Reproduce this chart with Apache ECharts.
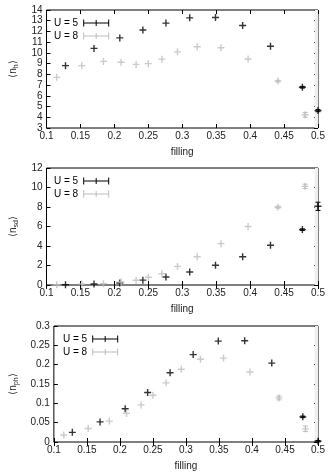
<!DOCTYPE html>
<html><head><meta charset="utf-8">
<script src="https://cdn.jsdelivr.net/npm/echarts@6/dist/echarts.min.js"></script>
<style>html,body{margin:0;padding:0;background:#fff}#c{width:334px;height:472px}</style>
</head><body><div id="c"></div>
<script>
// filling values
const fill5 = [0.128, 0.170, 0.208, 0.242, 0.276, 0.311, 0.349, 0.389, 0.430, 0.477, 0.500];
const fill8 = [0.115, 0.152, 0.184, 0.210, 0.232, 0.250, 0.270, 0.293, 0.322, 0.357, 0.397, 0.441, 0.481];
// panel 1: <n_h>
const nh5 = [8.81, 10.42, 11.40, 12.14, 12.78, 13.27, 13.30, 12.56, 10.62, 6.80, 4.62];
const nh8 = [7.72, 8.81, 9.21, 9.13, 8.93, 9.00, 9.42, 10.10, 10.58, 10.48, 9.43, 7.37, 4.23];
const nh5err = [0, 0, 0, 0, 0, 0, 0, 0, 0, 0.08, 0.1];
const nh8err = [0, 0, 0, 0, 0, 0, 0, 0, 0, 0, 0, 0.08, 0.22];
// panel 2: <n_sd>
const nsd5 = [0.03, 0.10, 0.20, 0.50, 0.82, 1.33, 2.02, 2.90, 4.08, 5.68, 8.07];
const nsd8 = [0.03, 0.10, 0.14, 0.31, 0.48, 0.79, 1.16, 1.91, 2.90, 4.24, 6.00, 7.98, 10.12];
const nsd5err = [0, 0, 0, 0, 0, 0, 0, 0, 0, 0.08, 0.42];
const nsd8err = [0, 0, 0, 0, 0, 0, 0, 0, 0, 0, 0, 0.1, 0.22];
// panel 3: <n_ph>
const nph5 = [0.025, 0.052, 0.086, 0.128, 0.179, 0.226, 0.261, 0.262, 0.204, 0.065, 0.002];
const nph8 = [0.018, 0.035, 0.054, 0.074, 0.096, 0.121, 0.153, 0.188, 0.214, 0.217, 0.181, 0.114, 0.034];
const nph5err = [0, 0, 0, 0, 0, 0, 0, 0, 0, 0.002, 0.002];
const nph8err = [0, 0, 0, 0, 0, 0, 0, 0, 0, 0, 0, 0.005, 0.007];
// axis settings
const xTicks = {min: 0.1, max: 0.5, interval: 0.05};
const yRanges = [{min: 3, max: 14, interval: 1}, {min: 0, max: 12, interval: 2}, {min: 0, max: 0.3, interval: 0.05}];
const yNames = ['⟨n{s|h}⟩', '⟨n{s|sd}⟩', '⟨n{s|ph}⟩'];
const seriesNames = ['U = 5', 'U = 8'];

const BLACK = '#000', GRAY = '#bdbdbd';
const plus = 'path://M0,2.4H2.4V0H3.6V2.4H6V3.6H3.6V6H2.4V3.6H0Z';
const legIcon = 'path://M0,3H26V4H0ZM0,0H1V7H0ZM25,0H26V7H25ZM12.5,0.5H13.5V6.5H12.5Z';

const grids = [
  {left: 39, top: 10, width: 279, height: 118},
  {left: 39, top: 168, width: 279, height: 117},
  {left: 48, top: 326, width: 270, height: 116.5}
];
const fmt = v => String(+v.toFixed(2));
const font = 'Liberation Sans, Arial, sans-serif';

const xAxis = [], yAxis = [], series = [], legend = [];
const panels = [
  [[fill5, nh5, nh5err], [fill8, nh8, nh8err]],
  [[fill5, nsd5, nsd5err], [fill8, nsd8, nsd8err]],
  [[fill5, nph5, nph5err], [fill8, nph8, nph8err]]
];
grids.forEach((g, i) => {
  xAxis.push({gridIndex: i, type: 'value', ...xTicks, name: 'filling', nameLocation: 'middle', nameGap: 19,
    nameTextStyle: {fontSize: 10, color: '#222', fontFamily: font},
    axisLine: {show: false}, splitLine: {show: false},
    axisTick: {inside: true, length: 4, lineStyle: {color: '#000'}},
    axisLabel: {fontSize: 10, color: '#222', margin: 3, formatter: fmt, fontFamily: font}});
  yAxis.push({gridIndex: i, type: 'value', ...yRanges[i], name: yNames[i], nameLocation: 'middle', nameGap: 27, nameRotate: 90,
    nameTextStyle: {fontSize: 10, color: '#222', fontFamily: font, rich: {s: {fontSize: 7, verticalAlign: 'bottom', padding: [6, 0, 0, 0], color: '#222'}}},
    axisLine: {show: false}, splitLine: {show: false},
    axisTick: {inside: true, length: 4, lineStyle: {color: '#000'}},
    axisLabel: {fontSize: 10, color: '#222', margin: 4, formatter: fmt, fontFamily: font}});
});
grids.forEach((g, i) => {
  xAxis.push({gridIndex: i, type: 'value', position: 'top', ...xTicks, axisLine: {show: false}, splitLine: {show: false},
    axisTick: {inside: true, length: 4, lineStyle: {color: '#000'}}, axisLabel: {show: false}});
  yAxis.push({gridIndex: i, type: 'value', position: 'right', ...yRanges[i], axisLine: {show: false}, splitLine: {show: false},
    axisTick: {inside: true, length: 4, lineStyle: {color: '#000'}}, axisLabel: {show: false}});
});
grids.forEach((g, i) => {
  panels[i].forEach((p, k) => {
    const [xs, ys, es] = p;
    const color = k === 0 ? BLACK : GRAY;
    const data = xs.map((x, j) => [x, ys[j], es[j]]);
    series.push({
      type: 'custom', name: seriesNames[k], xAxisIndex: i, yAxisIndex: i, z: 3, silent: true,
      itemStyle: {color},
      renderItem: (params, api) => {
        const x = api.value(0), y = api.value(1), e = api.value(2);
        if (!e) return null;
        const p1 = api.coord([x, y - e]), p2 = api.coord([x, y + e]);
        const st = {stroke: color, lineWidth: 1};
        return {type: 'group', children: [
          {type: 'line', shape: {x1: p1[0], y1: p1[1], x2: p2[0], y2: p2[1]}, style: st},
          {type: 'line', shape: {x1: p1[0] - 2.5, y1: p1[1], x2: p1[0] + 2.5, y2: p1[1]}, style: st},
          {type: 'line', shape: {x1: p2[0] - 2.5, y1: p2[1], x2: p2[0] + 2.5, y2: p2[1]}, style: st}
        ]};
      },
      data
    });
    series.push({
      type: 'scatter', name: seriesNames[k], xAxisIndex: i, yAxisIndex: i, z: 4, silent: true,
      symbol: plus, symbolSize: 7, itemStyle: {color},
      data: data.map(d => [d[0], d[1]]),
      markArea: k === 0 ? {silent: true, itemStyle: {color: '#efefef'}, data: [[{xAxis: 0.495}, {xAxis: 0.5}]]} : undefined
    });
  });
  legend.push({
    left: g.left + 10, top: g.top + 3, orient: 'vertical', align: 'right', itemGap: 3,
    itemWidth: 26, itemHeight: 7, selectedMode: false,
    textStyle: {fontSize: 10, color: '#000', fontFamily: font, padding: [0, 0, 0, 0]},
    data: [{name: 'U = 5', icon: legIcon, itemStyle: {color: BLACK}}, {name: 'U = 8', icon: legIcon, itemStyle: {color: GRAY}}]
  });
});

const chart = echarts.init(document.getElementById('c'), null, {renderer: 'canvas'});
chart.setOption({
  animation: false,
  grid: grids.map(g => ({...g, show: true, borderColor: '#000', borderWidth: 1, backgroundColor: 'transparent'})),
  xAxis, yAxis, series, legend
});
</script></body></html>
